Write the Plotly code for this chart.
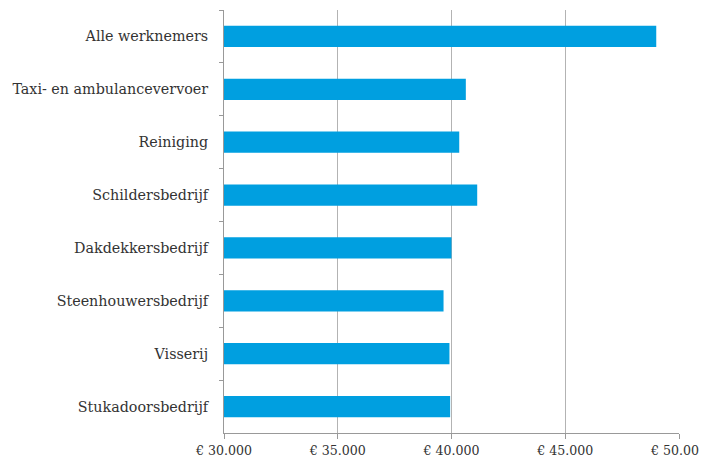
import plotly.graph_objects as go

categories = ["Alle werknemers", "Taxi- en ambulancevervoer", "Reiniging", "Schildersbedrijf",
              "Dakdekkersbedrijf", "Steenhouwersbedrijf", "Visserij", "Stukadoorsbedrijf"]
values = [49000, 40630, 40340, 41130, 40000, 39650, 39910, 39940]
tick_vals = [30000, 35000, 40000, 45000, 50000]
tick_text = ["€ 30.000", "€ 35.000", "€ 40.000", "€ 45.000", "€ 50.000"]

fig = go.Figure(go.Bar(
    x=values, y=categories, orientation="h",
    marker=dict(color="#009FE0", line=dict(width=0)),
    width=0.4,
))

font = dict(family="DejaVu Serif", size=14.3, color="#333333")
fig.update_layout(
    width=699, height=451,
    margin=dict(l=216, r=28, t=2, b=26, autoexpand=False),
    plot_bgcolor="white", paper_bgcolor="white",
    font=font, showlegend=False,
    xaxis=dict(range=[30000, 50000], tickvals=tick_vals, ticktext=tick_text,
               tickfont=dict(size=12.6),
               showgrid=True, gridcolor="#b3b3b3", gridwidth=1,
               showline=True, linecolor="#999999", linewidth=1,
               ticks="outside", ticklen=5, tickcolor="#999999",
               ticklabelstandoff=1, ticklabeloverflow="allow", automargin=False,
               zeroline=False, fixedrange=True),
    yaxis=dict(autorange="reversed", showline=True, linecolor="#999999", linewidth=1,
               ticks="outside", ticklen=4, tickcolor="#999999", tickson="boundaries",
               ticklabelstandoff=12, showgrid=False, automargin=False, fixedrange=True),
)
fig.write_html("out.html")
